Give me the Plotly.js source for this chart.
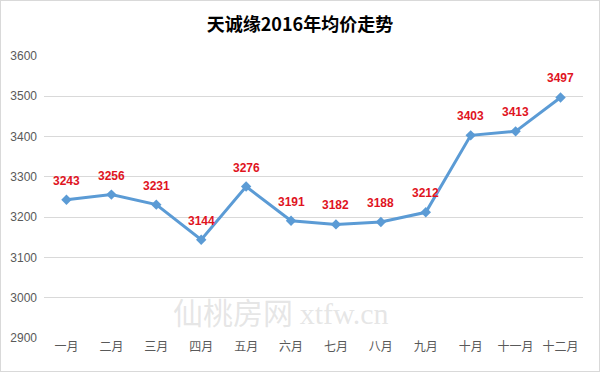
<!DOCTYPE html>
<html>
<head>
<meta charset="utf-8">
<script src="https://cdn.plot.ly/plotly-3.0.1.min.js"></script>
<style>
html,body{margin:0;padding:0;background:#fff;}
#chart{width:600px;height:372px;box-sizing:border-box;border:1px solid #d9d9d9;}
</style>
</head>
<body>
<div id="chart"></div>
<script>
const months = ["一月","二月","三月","四月","五月","六月","七月","八月","九月","十月","十一月","十二月"];
const prices = [3243,3256,3231,3144,3276,3191,3182,3188,3212,3403,3413,3497];
const yTicks = [2900,3000,3100,3200,3300,3400,3500,3600];

const trace = {
  x: months,
  y: prices,
  type: "scatter",
  mode: "lines+markers",
  line: {color: "#5b9bd5", width: 3},
  marker: {symbol: "diamond", size: 8, color: "#5b9bd5"},
  cliponaxis: false,
  hoverinfo: "skip"
};

const labelAnns = months.map((m, i) => ({
  x: m, y: prices[i], xref: "x", yref: "y",
  text: "<b>" + prices[i] + "</b>",
  showarrow: false,
  yshift: 19,
  font: {family: "Liberation Sans, Arial, sans-serif", size: 12, color: "#e0141e"}
}));

const layout = {
  width: 598, height: 370,
  margin: {l: 43, r: 16, t: 55, b: 33},
  paper_bgcolor: "#ffffff",
  plot_bgcolor: "#ffffff",
  showlegend: false,
  title: {
    text: "<b>天诚缘2016年均价走势</b>",
    font: {family: "Noto Sans CJK SC, sans-serif", size: 18, color: "#000000"},
    x: 0.5, xanchor: "center", xref: "container", y: 0.935, yref: "container", yanchor: "middle"
  },
  xaxis: {
    type: "category",
    range: [-0.5, 11.5],
    showgrid: false,
    zeroline: false,
    showline: false,
    ticks: "",
    tickfont: {family: "Noto Sans CJK SC, sans-serif", size: 12, color: "#595959"},
    fixedrange: true
  },
  yaxis: {
    range: [2900, 3600],
    tickvals: yTicks,
    ticktext: yTicks.map(String),
    showgrid: true,
    gridcolor: "#d9d9d9",
    gridwidth: 1,
    zeroline: false,
    showline: false,
    ticks: "",
    ticklabelstandoff: 6,
    tickfont: {family: "Liberation Sans, Arial, sans-serif", size: 12, color: "#595959"},
    fixedrange: true
  },
  annotations: labelAnns.concat([{
    text: "仙桃房网 <span style='font-family:Liberation Serif'>xtfw.cn</span>",
    xref: "paper", yref: "paper",
    x: 0.44, y: 0.095, xanchor: "center", yanchor: "middle",
    showarrow: false,
    font: {family: "Noto Sans CJK SC, sans-serif", size: 30, color: "rgba(200,200,200,0.45)"}
  }])
};

Plotly.newPlot("chart", [trace], layout, {displayModeBar: false, staticPlot: true});
</script>
</body>
</html>
